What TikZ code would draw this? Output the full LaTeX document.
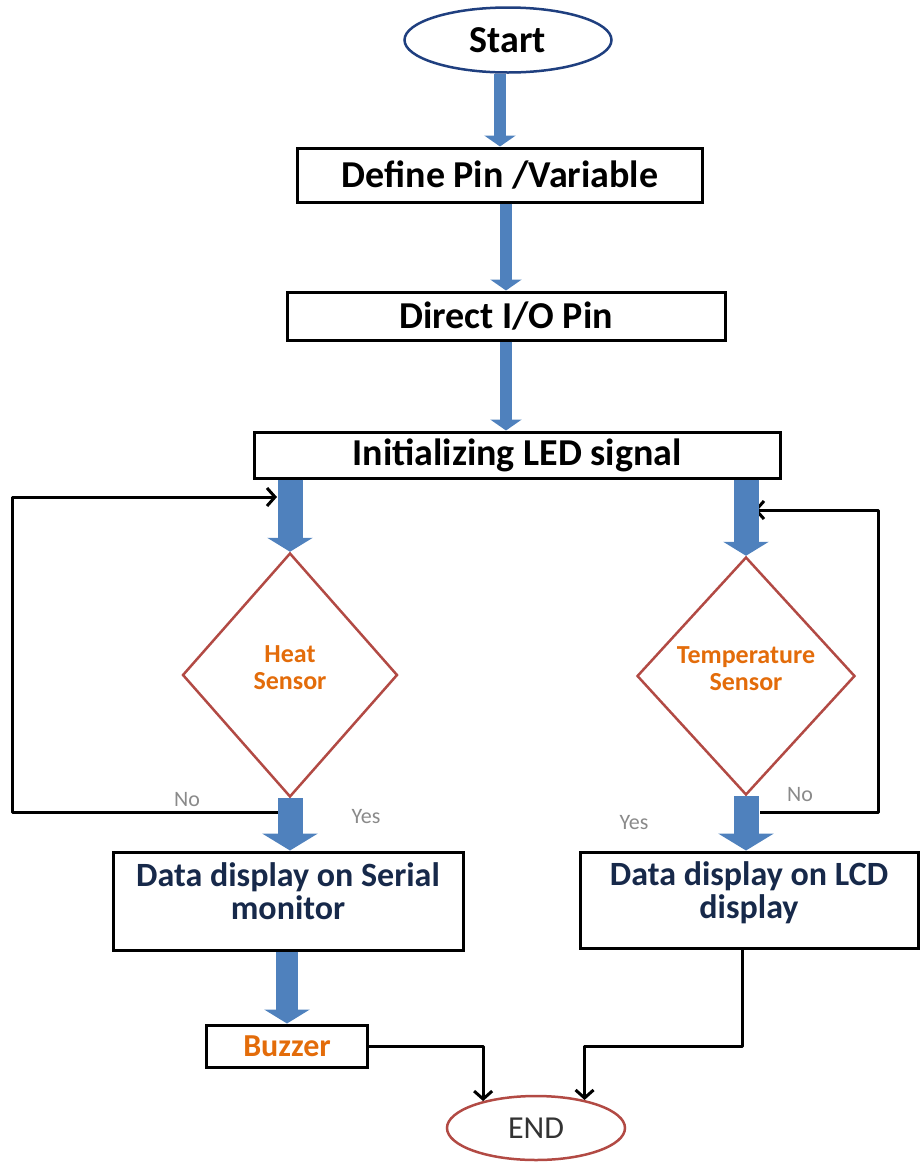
\documentclass[tikz,border=0pt]{standalone}
\usepackage{fontspec}
\setmainfont{Carlito}
\usepackage{xcolor}
\usetikzlibrary{shapes.geometric,arrows.meta}
\definecolor{arrowblue}{HTML}{4F81BD}
\definecolor{startblue}{HTML}{1F3F7F}
\definecolor{diamondred}{HTML}{B24A44}
\definecolor{sensororange}{HTML}{E36C0A}
\definecolor{datanavy}{HTML}{17294A}
\definecolor{notegray}{HTML}{8A8A8A}

\begin{document}
\begin{tikzpicture}[x=1pt,y=-1pt,
    box/.style={draw, rectangle, line width=3pt, inner sep=0pt, align=center},
    bigtext/.style={font=\fontsize{38}{40}\selectfont\bfseries},
    datatext/.style={font=\fontsize{34}{33}\selectfont\bfseries, text=datanavy, text depth=19pt},
    sensor/.style={draw=diamondred, diamond, line width=2.5pt, inner sep=0pt, align=center,
                   font=\fontsize{26}{27}\selectfont\bfseries, text=sensororange, text depth=15pt},
    note/.style={font=\fontsize{22}{22}\selectfont, text=notegray},
    thinblock/.style={draw=arrowblue, line width=12pt, -{Triangle[width=31pt,length=11pt]}},
    thickblock/.style={draw=arrowblue, line width=25pt, -{Triangle[width=45pt,length=14pt]}},
    wideblock/.style={draw=arrowblue, line width=25pt, -{Triangle[width=55pt,length=17pt]}},
    flowline/.style={draw, line width=3pt, line join=round, -{Straight Barb[length=8pt,width=18pt]}}
  ]
    \useasboundingbox (0,0) rectangle (921,1163);

    % boxes
    \node[ellipse, draw=startblue, line width=2.5pt, minimum width=207, minimum height=65,
          inner sep=0pt, bigtext] (start) at (508,40) {Start};
    \node[box, bigtext, minimum width=405, minimum height=54] (define) at (500,175) {Define Pin /Variable};
    \node[box, bigtext, minimum width=438, minimum height=48] (direct) at (506,316) {Direct I/O Pin};
    \node[box, bigtext, minimum width=526, minimum height=46] (init) at (517,455) {Initializing LED signal};

    \node[sensor, minimum width=215, minimum height=244] (heat) at (290,675) {Heat\\Sensor};
    \node[sensor, minimum width=218, minimum height=238] (temp) at (746,676) {Temperature\\Sensor};

    \node[box, datatext, minimum width=350, minimum height=98] (serial) at (288,901)
         {Data display on Serial\\monitor};
    \node[box, datatext, minimum width=338, minimum height=96] (lcd) at (749,900)
         {Data display on LCD\\display};

    \node[box, minimum width=161, minimum height=42, text=sensororange,
          font=\fontsize{32}{32}\selectfont\bfseries] (buzzer) at (287,1046) {Buzzer};
    \node[ellipse, draw=diamondred, line width=2.5pt, minimum width=178, minimum height=64,
          inner sep=0pt, text=black!80, font=\fontsize{32}{32}\selectfont] (endn) at (536,1128) {END};

    \node[note] (noleft) at (187,800) {No};
    \node[note] (yesleft) at (366,817) {Yes};
    \node[note] (noright) at (800,795) {No};
    \node[note] (yesright) at (634,823) {Yes};

    % loops back
    \coordinate (heatout) at (288,812);
    \coordinate (heatcorner) at (12,812);
    \coordinate (heatin) at (277,497);
    \draw[flowline] (heatout) -- (heatcorner) |- (heatin);
    \coordinate (tempout) at (760,812);
    \coordinate (tempcorner) at (878,812);
    \coordinate (tempin) at (754,510);
    \draw[flowline] (tempout) -- (tempcorner) |- (tempin);

    % main arrows
    \draw[thinblock] (start.south -| define.north) -- (define.north);
    \draw[thinblock] (define.south -| direct.north) -- (direct.north);
    \draw[thinblock] (direct.south) -- (direct.south |- init.north);
    \draw[thickblock] (heat.north |- init.south) -- (heat.north);
    \draw[thickblock] (temp.north |- init.south) -- (temp.north);
    \draw[wideblock] (heat.south) -- (heat.south |- serial.north);
    \draw[wideblock] (temp.south) -- (temp.south |- lcd.north);
    \draw[thickblock, line width=22pt] (buzzer.north |- serial.south) -- (buzzer.north);

    \draw[flowline] (buzzer.east) -| (endn.153);
    \draw[flowline] ([xshift=-7pt]lcd.south) |- (buzzer.east -| endn.30) -- (endn.30);
\end{tikzpicture}
\end{document}
